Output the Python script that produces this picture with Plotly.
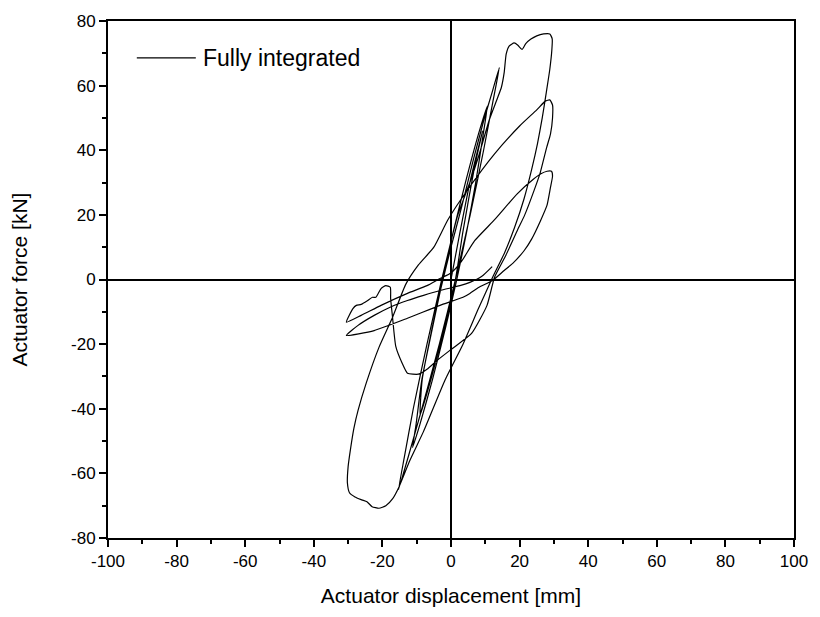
import plotly.graph_objects as go

# Hysteresis path (actuator displacement [mm], actuator force [kN])
disp_steep = [0, 2.5, 5.5, 9.2, 6.9, 3.5, 1.3, -1.9, -5.6, -9,
              -8.4, -5.5, -2.5, 0.7, 4.2, 8.0, 10.6, 9.4, 7.2, 4.6, 1.7, -1.6, -5.4, -9.1, -11.2,
              -10.2, -8.5, -6, -3, 0, 3, 6.5, 9.5, 12, 14.1, 12.2, 9.5, 5.6, 1.3, -3.4, -8.5, -12.5, -15.3]
force_steep = [0, 14, 30, 46, 35, 15, 0, -15, -30, -42,
               -31, -15, 0, 15, 30, 45, 53.7, 45, 30, 15, 0, -15, -31, -45, -52,
               -45, -31, -18, -3, 10, 22, 37, 49, 58, 65.6, 55, 40, 20, 0, -20, -40, -55, -65]

disp_big = [-13.6, -11, -7, -2.7, 2, 5.5, 8, 11.2, 13.5, 14.7, 15.5, 16.1, 17, 18.4, 19.5, 20.7, 21.8,
            23.3, 25, 27, 28.8, 29.5, 29.4, 28.8, 27.8, 26.6, 25.2, 23.5, 21.3, 18.5, 15.5, 12.1, 8, 3.5,
            -1.7, -8, -12, -15.3]
force_big = [-55, -40, -20, 0, 20, 30, 38, 49.5, 56, 59.5, 64, 69.8, 72.3, 73.2, 72.5, 71.2, 73,
             74.4, 75.4, 76, 76, 74.5, 71, 65, 58, 50, 42, 34, 25, 16, 8, 0.6, -9, -20,
             -31, -47, -56, -64.5]

disp_left = [-17, -19, -21, -23, -24.5, -26, -28, -29.6, -30.2, -30, -29.3, -28.3, -27.1, -24.7, -21, -17,
             -13.2, -9.5, -5, -0.9, 5, 12.7, 20, 25, 27.5, 28.8, 29.6, 29.6, 29, 27.9, 26, 24.2, 21.5,
             19.3, 16, 12.7]
force_left = [-67.8, -70, -70.8, -70.3, -68.8, -68.2, -67.3, -66, -63, -58, -52.5, -46, -40.5, -32, -21,
              -11.6, -1.5, 4.5, 10, 18.5, 28, 38.9, 47.5, 52.5, 55.2, 55.6, 54, 50, 45, 40.9, 33, 27.5, 20,
              15.1, 7.5, 0.7]

disp_dip = [10.5, 6, 0.2, -4, -7, -9.5, -12.7, -14.2, -16.1, -17.1, -17.6, -17.7, -19, -20.4, -21.9, -22.9,
            -24.3, -26.2, -27.6, -28.6, -30.5]
force_dip = [-8, -16.7, -21.5, -25, -27.8, -29.3, -29, -26, -20.7, -11.1, -5.9, -2.4, -1.9, -2.8, -5.5, -5.5,
             -6.5, -7.7, -8, -9, -13.2]

disp_small = [-26.2, -20.4, -12.7, -7, -3.2, 0, 3, 6.9, 12.7, 19.3, 24, 26.2, 28, 29.3, 29.6, 29, 28, 26.1,
              23.5, 21.3, 18, 15.5, 12.1, 8, 5.5, 3.5, -3.2, -12.7, -22.4, -30.5, -27.1, -22.4, -17.6,
              -12.7, -8, -3.2, 2.6, 5.5, 9, 12]
force_small = [-11.1, -8, -4.3, -1.9, 0.3, 2, 5.5, 12, 18.5, 26.5, 31, 32.7, 33.5, 33.5, 32, 28.5, 23, 18.2,
               12.5, 8.9, 5, 2.8, -0.3, -2.5, -4.3, -5.5, -8, -12, -15.8, -17.3, -14.2, -11.1, -8.5,
               -6.5, -4.9, -3.4, -1.9, -0.9, 1, 4]

x_vals = disp_steep + disp_big + disp_left + disp_dip + disp_small
y_vals = force_steep + force_big + force_left + force_dip + force_small

x_ticks = [-100, -80, -60, -40, -20, 0, 20, 40, 60, 80, 100]
x_labels = ["-100", "-80", "-60", "-40", "-20", "0", "20", "40", "60", "80", "100"]
y_ticks = [-80, -60, -40, -20, 0, 20, 40, 60, 80]
y_labels = ["-80", "-60", "-40", "-20", "0", "20", "40", "60", "80"]

FONT = "Liberation Sans, Arial, sans-serif"

fig = go.Figure()
fig.add_trace(go.Scatter(x=x_vals, y=y_vals, mode="lines", name="Fully integrated",
                         line=dict(color="black", width=1.2, shape="spline", smoothing=0.5),
                         showlegend=False))

axis_common = dict(showline=True, linecolor="black", linewidth=2, mirror=True,
                   ticks="outside", ticklen=7, tickwidth=1.5, tickcolor="black",
                   showgrid=False, zeroline=True, zerolinecolor="black",
                   tickfont=dict(family=FONT, size=17, color="black"),
                   minor=dict(ticks="outside", ticklen=4, tickwidth=1.5, tickcolor="black", dtick=10))

fig.update_xaxes(range=[-100, 100], tickmode="array", tickvals=x_ticks, ticktext=x_labels, zerolinewidth=1.5,
                 title=dict(text="Actuator displacement [mm]", font=dict(family=FONT, size=21, color="black"),
                            standoff=18),
                 **axis_common)
fig.update_yaxes(range=[-80, 80], tickmode="array", tickvals=y_ticks, ticktext=y_labels, zerolinewidth=2.2,
                 title=dict(text="Actuator force [kN]", font=dict(family=FONT, size=21, color="black"),
                            standoff=38),
                 **axis_common)

# legend drawn as a short line sample plus label
fig.add_shape(type="line", xref="paper", yref="paper", x0=0.042, x1=0.128, y0=0.9286, y1=0.9286,
              line=dict(color="black", width=1.2))
fig.add_annotation(xref="paper", yref="paper", x=0.136, y=0.9286, xanchor="left", yanchor="middle",
                   text="Fully integrated", showarrow=False,
                   font=dict(family=FONT, size=23, color="black"))

fig.update_layout(width=820, height=617, margin=dict(l=108, r=17, t=20, b=79),
                  plot_bgcolor="white", paper_bgcolor="white")

fig.write_html("out.html")
